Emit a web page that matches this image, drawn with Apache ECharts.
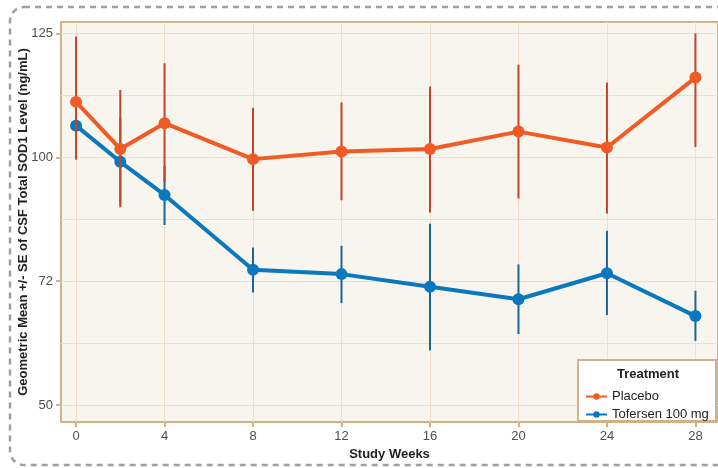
<!DOCTYPE html>
<html>
<head>
<meta charset="utf-8">
<script src="https://cdn.jsdelivr.net/npm/echarts@6/dist/echarts.min.js"></script>
<style>
  html, body { margin: 0; padding: 0; background: #ffffff; }
  #chart { width: 718px; height: 468px; }
</style>
</head>
<body>
<div id="chart"></div>
<script>
// Study visits (weeks)
const weeks = [0, 2, 4, 8, 12, 16, 20, 24, 28];

// Geometric mean CSF SOD1 (ng/mL) with +/- SE limits
const placeboMean  = [111.2, 101.7, 106.9, 99.6, 101.2, 101.7, 105.2, 102.0, 116.1];
const placeboUpper = [124.4, 113.6, 119.0, 110.0, 111.1, 114.3, 118.7, 115.1, 125.0];
const placeboLower = [99.5, 88.7, 94.4, 87.9, 90.3, 87.5, 90.7, 87.3, 102.1];

const tofersenMean  = [106.4, 99.0, 91.5, 74.6, 73.6, 71.0, 68.8, 73.8, 65.8];
const tofersenUpper = [108.4, 107.9, 98.1, 79.6, 80.0, 85.0, 75.8, 83.4, 70.3];
const tofersenLower = [104.4, 89.3, 84.7, 70.0, 68.1, 59.7, 62.6, 66.0, 61.4];

// Axis tick labels
const yTickValues = [50, 72, 100, 125];
const xTickValues = [0, 4, 8, 12, 16, 20, 24, 28];

// The y axis places its labelled levels evenly apart; map a concentration
// onto that ladder (tick i sits at axis position i, linear in between).
function toAxis(v) {
  const n = yTickValues.length;
  for (let i = 0; i < n - 1; i++) {
    const a = yTickValues[i], b = yTickValues[i + 1];
    if (v <= b || i === n - 2) return i + (v - a) / (b - a);
  }
}

const majorPos = yTickValues.map((_, i) => i);
const gridPos = [];
for (let i = 0; i <= (yTickValues.length - 1) * 2; i++) gridPos.push(i / 2);

const ORANGE = '#f15a24';
const ORANGE_BAR = '#c0462a';
const BLUE = '#0a78be';
const BLUE_BAR = '#1b6696';
const TAN = '#d3b187';
const GRIDLINE = '#eddfc9';
const FONT = 'Liberation Sans, Arial, sans-serif';

function meanData(mean) {
  return weeks.map((w, i) => [w, toAxis(mean[i])]);
}
function seData(lower, upper) {
  return weeks.map((w, i) => [w, toAxis(lower[i]), toAxis(upper[i])]);
}
function errorBars(name, lower, upper, color, z) {
  return {
    type: 'custom',
    name: name,
    z: z,
    silent: true,
    encode: { x: 0, y: [1, 2] },
    data: seData(lower, upper),
    renderItem: function (params, api) {
      const x = api.value(0);
      const p1 = api.coord([x, api.value(1)]);
      const p2 = api.coord([x, api.value(2)]);
      return {
        type: 'line',
        shape: { x1: p1[0], y1: p1[1], x2: p2[0], y2: p2[1] },
        style: { stroke: color, lineWidth: 2 }
      };
    }
  };
}
function meanLine(name, mean, color, z) {
  return {
    type: 'line',
    name: name,
    z: z,
    data: meanData(mean),
    symbol: 'circle',
    symbolSize: 12,
    showSymbol: true,
    color: color,
    lineStyle: { color: color, width: 4 },
    itemStyle: { color: color },
    emphasis: { disabled: true }
  };
}

const chart = echarts.init(document.getElementById('chart'), null, { renderer: 'canvas' });

const yMin = -0.137, yMax = 3.093;

chart.setOption({
  animation: false,
  backgroundColor: '#ffffff',
  grid: {
    left: 61, right: -2, top: 22, bottom: 46,
    show: true,
    backgroundColor: '#f8f4ee',
    borderColor: TAN,
    borderWidth: 2
  },
  xAxis: {
    type: 'value',
    min: -0.68,
    max: 29.02,
    name: 'Study Weeks',
    nameLocation: 'middle',
    nameGap: 26,
    nameMoveOverlap: false,
    nameTextStyle: { fontFamily: FONT, fontSize: 13, fontWeight: 'bold', color: '#222' },
    axisLine: { show: false, onZero: false },
    axisTick: { show: true, length: 5, lineStyle: { color: TAN, width: 2 }, customValues: xTickValues },
    axisLabel: { customValues: xTickValues, margin: 8, fontFamily: FONT, fontSize: 13, color: '#4d4d4d' },
    splitLine: { show: true, lineStyle: { color: GRIDLINE, width: 1 } }
  },
  yAxis: [
    {
      // gridlines at labelled levels and halfway between them
      type: 'value',
      min: yMin, max: yMax,
      axisLine: { show: false, onZero: false },
      axisTick: { show: false, customValues: gridPos },
      axisLabel: { show: false, customValues: gridPos },
      splitLine: { show: true, lineStyle: { color: GRIDLINE, width: 1 } }
    },
    {
      type: 'value',
      min: yMin, max: yMax,
      position: 'left',
      name: 'Geometric Mean +/- SE of CSF Total SOD1 Level (ng/mL)',
      nameLocation: 'middle',
      nameGap: 31,
      nameMoveOverlap: false,
      nameTextStyle: { fontFamily: FONT, fontSize: 13, fontWeight: 'bold', color: '#222' },
      axisLine: { show: false, onZero: false },
      axisTick: { show: true, length: 5, lineStyle: { color: TAN, width: 2 }, customValues: majorPos },
      axisLabel: {
        customValues: majorPos,
        margin: 8,
        fontFamily: FONT, fontSize: 13, color: '#4d4d4d',
        formatter: function (v) { return String(yTickValues[Math.round(v)]); }
      },
      splitLine: { show: false }
    }
  ],
  legend: {
    orient: 'vertical',
    left: 585,
    top: 390,
    z: 20,
    padding: 0,
    itemWidth: 21,
    itemHeight: 8,
    itemGap: 5,
    selectedMode: false,
    lineStyle: { width: 2 },
    textStyle: { fontFamily: FONT, fontSize: 13, color: '#222' },
    data: ['Placebo', 'Tofersen 100 mg']
  },
  graphic: [
    {
      type: 'rect',
      z: -10,
      silent: true,
      shape: { x: 10, y: 7, width: 760, height: 458, r: 14 },
      style: { fill: 'none', stroke: '#9aa0a6', lineWidth: 2.5, lineDash: [6, 5] }
    },
    {
      type: 'rect',
      z: 10,
      silent: true,
      shape: { x: 578, y: 360, width: 138, height: 61 },
      style: { fill: '#ffffff', stroke: TAN, lineWidth: 2 }
    },
    {
      type: 'text',
      z: 11,
      silent: true,
      x: 648,
      y: 374,
      style: {
        text: 'Treatment',
        fontFamily: FONT, fontSize: 13, fontWeight: 'bold', fill: '#222',
        align: 'center', verticalAlign: 'middle'
      }
    }
  ],
  series: [
    errorBars('Tofersen 100 mg SE', tofersenLower, tofersenUpper, BLUE_BAR, 2),
    meanLine('Tofersen 100 mg', tofersenMean, BLUE, 3),
    errorBars('Placebo SE', placeboLower, placeboUpper, ORANGE_BAR, 4),
    meanLine('Placebo', placeboMean, ORANGE, 5)
  ]
});
</script>
</body>
</html>
